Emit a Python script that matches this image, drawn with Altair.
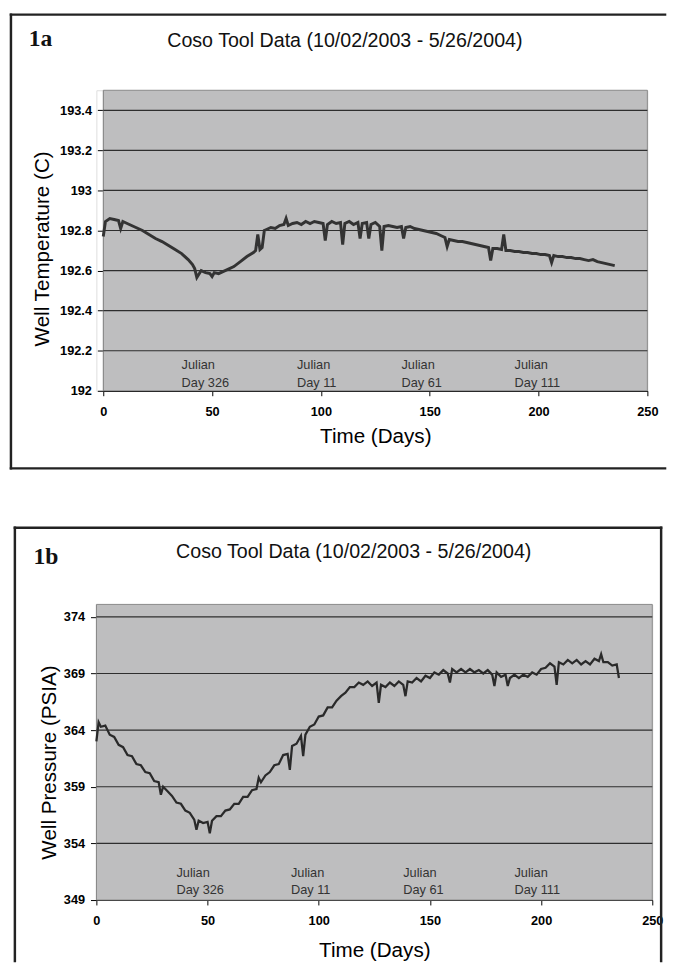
import altair as alt
import pandas as pd

FONT = "Liberation Sans, Arial"
NARROW = "Liberation Sans Narrow, Liberation Sans, Arial"

# ---------------- data ----------------
x_ticks = [0, 50, 100, 150, 200, 250]
temp_ticks = [192.0, 192.2, 192.4, 192.6, 192.8, 193.0, 193.2, 193.4]
temp_grid = [192.2, 192.4, 192.6, 192.8, 193.0, 193.2, 193.4]
pres_ticks = [349, 354, 359, 364, 369, 374]
pres_grid = [354, 359, 364, 369, 374]
julian_x_top = [36, 89, 137, 189]
julian_x_bot = [36, 87.5, 138, 188]
julian_line1 = ["Julian", "Julian", "Julian", "Julian"]
julian_line2 = ["Day 326", "Day 11", "Day 61", "Day 111"]
chart_title = "Coso Tool Data (10/02/2003 - 5/26/2004)"

temp_points = [
    (0, 192.77), (1, 192.845), (3, 192.86), (5, 192.855), (7, 192.85), (8, 192.81), (9, 192.845),
    (12, 192.83), (15, 192.815), (18, 192.80), (21, 192.78), (24, 192.76), (27, 192.745), (30, 192.725),
    (33, 192.705), (36, 192.685), (39, 192.655), (41, 192.63), (42, 192.61), (43, 192.565), (45, 192.60),
    (47, 192.59), (49, 192.585), (50, 192.57), (51, 192.59), (53, 192.585), (55, 192.595), (57, 192.605),
    (60, 192.62), (63, 192.645), (66, 192.67), (69, 192.69), (70, 192.70), (71, 192.78), (72, 192.705),
    (73, 192.715), (74, 192.80), (75, 192.805), (77, 192.815), (79, 192.81), (81, 192.825), (83, 192.83),
    (84, 192.86), (85, 192.825), (87, 192.835), (89, 192.84), (91, 192.83), (93, 192.845), (95, 192.835),
    (97, 192.845), (99, 192.84), (101, 192.835), (102, 192.75), (103, 192.83), (105, 192.845), (107, 192.835),
    (109, 192.84), (110, 192.73), (111, 192.835), (113, 192.845), (115, 192.83), (117, 192.84), (118, 192.76),
    (119, 192.835), (121, 192.84), (122, 192.76), (123, 192.83), (125, 192.84), (127, 192.82), (128, 192.70),
    (129, 192.82), (131, 192.825), (133, 192.82), (135, 192.815), (137, 192.82), (138, 192.76), (139, 192.815),
    (141, 192.82), (143, 192.81), (145, 192.805), (147, 192.80), (149, 192.795), (151, 192.79), (153, 192.785),
    (155, 192.775), (157, 192.765), (158, 192.72), (159, 192.755), (161, 192.75), (163, 192.745), (165, 192.745),
    (167, 192.74), (169, 192.735), (171, 192.73), (173, 192.725), (175, 192.72), (177, 192.715), (178, 192.65),
    (179, 192.71), (181, 192.71), (183, 192.705), (184, 192.78), (185, 192.70), (187, 192.70), (189, 192.695),
    (191, 192.695), (193, 192.69), (195, 192.69), (197, 192.685), (199, 192.685), (201, 192.68), (203, 192.68),
    (205, 192.675), (206, 192.64), (207, 192.675), (209, 192.67), (211, 192.67), (213, 192.665), (215, 192.665),
    (217, 192.66), (219, 192.66), (221, 192.655), (223, 192.65), (225, 192.655), (227, 192.645), (229, 192.64),
    (231, 192.635), (233, 192.63), (235, 192.625),
]

pres_points = [
    (0, 363.0), (1, 364.7), (2, 364.3), (4, 364.4), (6, 363.6), (8, 363.4), (10, 362.7), (12, 362.5),
    (14, 361.8), (16, 361.7), (18, 361.0), (20, 360.9), (22, 360.3), (24, 360.2), (26, 359.5), (28, 359.4),
    (29, 358.3), (30, 359.0), (32, 358.6), (34, 358.2), (36, 357.6), (38, 357.5), (40, 356.9), (42, 356.7),
    (44, 356.1), (45, 355.2), (46, 356.0), (48, 355.8), (50, 355.9), (51, 354.9), (52, 356.0), (54, 356.4),
    (56, 356.4), (58, 356.9), (60, 357.0), (62, 357.5), (64, 357.5), (66, 358.1), (68, 358.1), (70, 358.7),
    (72, 358.8), (73, 359.8), (74, 359.4), (76, 360.0), (78, 360.3), (80, 360.9), (82, 361.0), (84, 361.8),
    (86, 361.9), (87, 360.5), (88, 362.6), (90, 362.8), (92, 363.5), (93, 361.7), (94, 363.6), (96, 364.3),
    (98, 364.5), (100, 365.2), (102, 365.3), (104, 366.0), (106, 366.0), (108, 366.6), (110, 367.0),
    (112, 367.3), (114, 367.8), (116, 367.8), (118, 368.2), (120, 368.0), (122, 368.3), (124, 367.9),
    (126, 368.2), (127, 366.4), (128, 368.0), (130, 367.8), (132, 368.2), (134, 367.9), (136, 368.3),
    (138, 368.0), (139, 367.0), (140, 368.3), (142, 368.2), (144, 368.6), (146, 368.3), (148, 368.8),
    (150, 368.6), (152, 369.1), (154, 368.9), (156, 369.3), (158, 369.0), (159, 368.2), (160, 369.4),
    (162, 369.1), (164, 369.4), (166, 369.1), (168, 369.4), (170, 369.1), (172, 369.3), (174, 369.0),
    (176, 369.3), (178, 368.9), (179, 367.9), (180, 369.1), (182, 368.7), (184, 368.9), (185, 367.9),
    (186, 368.6), (188, 368.9), (190, 368.6), (192, 368.9), (194, 368.7), (196, 369.1), (198, 368.9),
    (200, 369.4), (202, 369.5), (204, 369.9), (206, 369.6), (207, 368.0), (208, 370.0), (210, 369.8),
    (212, 370.2), (214, 369.9), (216, 370.2), (218, 369.8), (220, 370.1), (222, 369.8), (224, 370.3),
    (226, 370.1), (227, 370.7), (228, 370.0), (230, 370.0), (232, 369.7), (234, 369.8), (235, 368.6),
]

temp_df = pd.DataFrame(temp_points, columns=["day", "temp"])
pres_df = pd.DataFrame(pres_points, columns=["day", "pres"])
one = pd.DataFrame({"k": [0]})


def rule(x, x2, y, y2, w=2.5, c="#222222"):
    return alt.Chart(one).mark_rule(color=c, strokeWidth=w, strokeCap="square").encode(
        x=alt.value(x), x2=alt.value(x2), y=alt.value(y), y2=alt.value(y2))


def label(x, y, text, size, weight="normal", font=FONT, align="left"):
    return alt.Chart(one).mark_text(fontSize=size, fontWeight=weight, font=font, align=align,
                                    baseline="middle", color="#111111").encode(
        x=alt.value(x), y=alt.value(y), text=alt.value(text))


def x_axis(pad):
    return alt.Axis(values=x_ticks, format="d", title="Time (Days)", titlePadding=pad, grid=False,
                    domainColor="#000000", domainWidth=1.2, tickColor="#000000", tickSize=5, tickWidth=1,
                    labelPadding=10, labelFont=NARROW, labelFontWeight="bold", labelFontSize=13,
                    labelColor="#000000", labelFlush=False, labelOverlap=False,
                    titleFont=FONT, titleFontSize=21, titleFontWeight="normal", titleColor="#000000")


def y_axis(vals, fmt, title, offset, pad, ty):
    return alt.Axis(values=vals, format=fmt, title=title, titlePadding=pad, grid=False, offset=offset,
                    domainColor="#000000", domainWidth=1.2, tickColor="#000000", tickSize=6, tickWidth=1,
                    labelPadding=6, labelFont=NARROW, labelFontWeight="bold", labelFontSize=13,
                    labelColor="#000000", labelFlush=False, labelOverlap=False, titleY=ty,
                    titleFont=FONT, titleFontSize=21, titleFontWeight="normal", titleColor="#000000")


# ---------------- top panel (1a) ----------------
W1, H1, OFF1 = 561, 306, 7
xs1 = alt.Scale(domain=[0, 250], range=[OFF1, W1], nice=False, zero=False)
ys1 = alt.Scale(domain=[192, 193.5], nice=False, zero=False)
xa1 = x_axis(8)
ya1 = y_axis(temp_ticks, "~g", "Well Temperature (C)", -OFF1, 7, H1 / 2 + 8)

bg1 = alt.Chart(one).mark_rect(fill="#bebebf", stroke="#8a8a8a", strokeWidth=1).encode(
    x=alt.value(OFF1), x2=alt.value(W1), y=alt.value(0), y2=alt.value(H1))
grid1 = alt.Chart(pd.DataFrame({"g": temp_grid})).mark_rule(color="#2e2e2e", strokeWidth=1.2).encode(
    y=alt.Y("g:Q", scale=ys1, axis=ya1), x=alt.value(OFF1), x2=alt.value(W1))
line1 = alt.Chart(temp_df).mark_line(color="#333333", strokeWidth=3).encode(
    x=alt.X("day:Q", scale=xs1, axis=xa1),
    y=alt.Y("temp:Q", scale=ys1, axis=ya1))
ann_df1 = pd.DataFrame({"x": julian_x_top, "l1": julian_line1, "l2": julian_line2})
ann1a = alt.Chart(ann_df1).mark_text(align="left", baseline="middle", fontSize=13, font=FONT,
                                     color="#333333").encode(
    x=alt.X("x:Q", scale=xs1, axis=xa1), y=alt.value(H1 - 26), text="l1:N")
ann1b = alt.Chart(ann_df1).mark_text(align="left", baseline="middle", fontSize=13, font=FONT,
                                     color="#333333").encode(
    x=alt.X("x:Q", scale=xs1, axis=xa1), y=alt.value(H1 - 8), text="l2:N")

frame1 = [
    rule(-87, -87, -77, 385),
    rule(-87, 579, -77, -77),
    rule(-87, 579, 385, 385),
]
texts1 = [
    label(-69, -52, "1a", 24, "bold", "Liberation Serif, DejaVu Serif"),
    label(253, -50, chart_title, 20, align="center"),
]

top = alt.layer(bg1, grid1, line1, ann1a, ann1b, *frame1, *texts1).properties(width=W1, height=H1)

# ---------------- bottom panel (1b) ----------------
W2, H2 = 566, 301
xs2 = alt.Scale(domain=[0, 250], nice=False, zero=False)
ys2 = alt.Scale(domain=[349, 375.1], nice=False, zero=False)
xa2 = x_axis(12)
ya2 = y_axis(pres_ticks, "d", "Well Pressure (PSIA)", 0, 4, H2 / 2 + 10)

bg2 = alt.Chart(one).mark_rect(fill="#bebebf", stroke="#8a8a8a", strokeWidth=1).encode(
    x=alt.value(0), x2=alt.value(W2), y=alt.value(0), y2=alt.value(H2))
grid2 = alt.Chart(pd.DataFrame({"g": pres_grid})).mark_rule(color="#2e2e2e", strokeWidth=1.2).encode(
    y=alt.Y("g:Q", scale=ys2, axis=ya2), x=alt.value(0), x2=alt.value(W2))
line2 = alt.Chart(pres_df).mark_line(color="#2a2a2a", strokeWidth=2.3).encode(
    x=alt.X("day:Q", scale=xs2, axis=xa2),
    y=alt.Y("pres:Q", scale=ys2, axis=ya2))
ann_df2 = pd.DataFrame({"x": julian_x_bot, "l1": julian_line1, "l2": julian_line2})
ann2a = alt.Chart(ann_df2).mark_text(align="left", baseline="middle", fontSize=13, font=FONT,
                                     color="#333333").encode(
    x=alt.X("x:Q", scale=xs2, axis=xa2), y=alt.value(H2 - 27), text="l1:N")
ann2b = alt.Chart(ann_df2).mark_text(align="left", baseline="middle", fontSize=13, font=FONT,
                                     color="#333333").encode(
    x=alt.X("x:Q", scale=xs2, axis=xa2), y=alt.value(H2 - 10), text="l2:N")

frame2 = [
    rule(-83, -83, -78, 363),
    rule(-83, 575, -78, -78),
    rule(575, 575, -78, 363),
]
texts2 = [
    label(-64, -48, "1b", 24, "bold", "Liberation Serif, DejaVu Serif"),
    label(262, -53, chart_title, 20, align="center"),
]

bottom = alt.layer(bg2, grid2, line2, ann2a, ann2b, *frame2, *texts2).properties(width=W2, height=H2)

chart = alt.vconcat(top, bottom, spacing=54.5).properties(
    padding={"left": 0, "top": -5, "right": 0, "bottom": 0}
).configure_view(stroke=None, fill=None).configure(background="#ffffff")

chart.save("out.html", embed_options={"renderer": "svg", "actions": False})
